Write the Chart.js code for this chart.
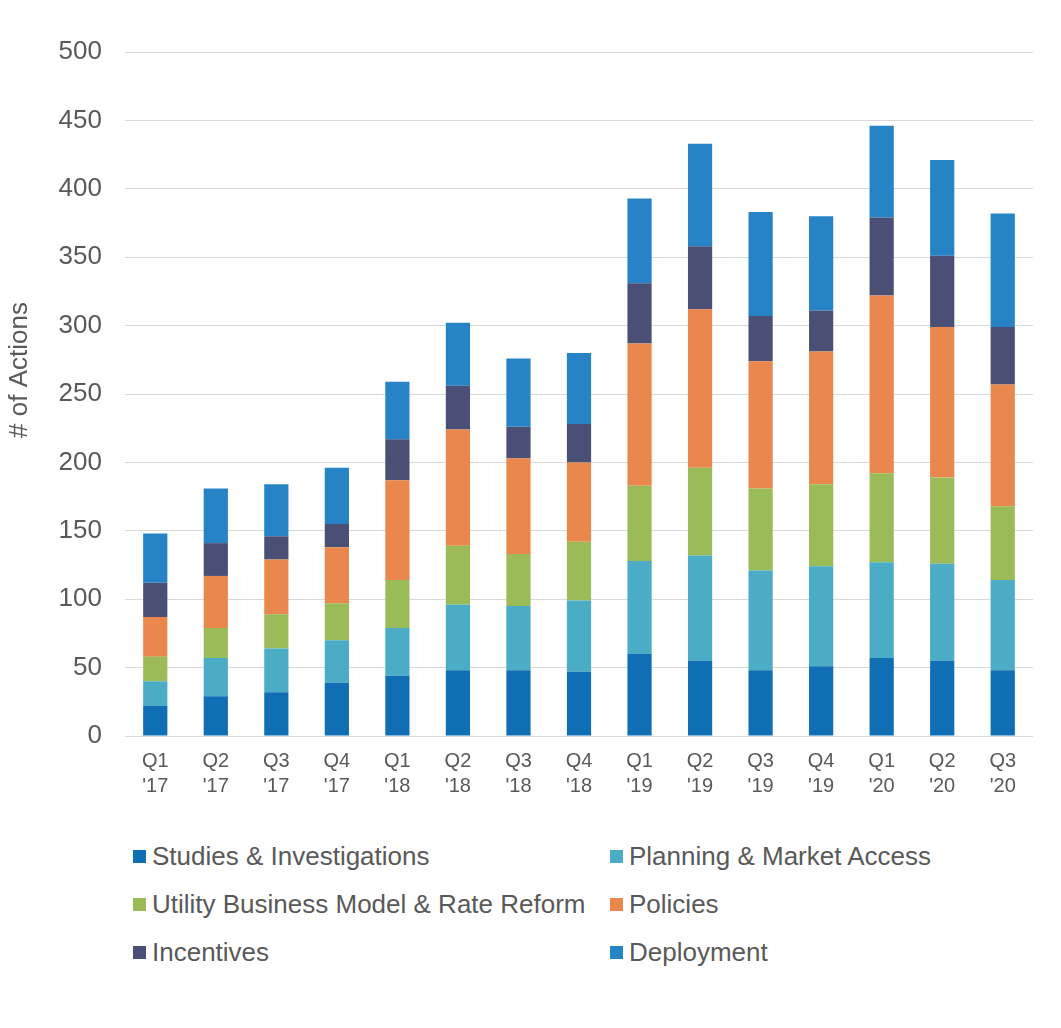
<!DOCTYPE html>
<html>
<head>
<meta charset="utf-8">
<script src="https://cdn.jsdelivr.net/npm/chart.js@4"></script>
<style>
  body { margin: 0; background: #fff; font-family: "Liberation Sans", Arial, sans-serif; }
  #wrap { position: relative; width: 1061px; height: 1028px; }
  #legend { position: absolute; left: 133px; top: 838px; display: grid;
            grid-template-columns: 477px 420px; row-gap: 12px; }
  .item { display: flex; align-items: center; height: 36px; font-size: 26px; color: #595959; white-space: nowrap; }
  .box { width: 13px; height: 13px; margin-right: 6px; }
</style>
</head>
<body>
<div id="wrap">
  <canvas id="chart" width="1061" height="820"></canvas>
  <div id="legend"></div>
</div>
<script>
// quarters on the x axis (two-line labels)
const quarters = [
  ['Q1', "'17"], ['Q2', "'17"], ['Q3', "'17"], ['Q4', "'17"],
  ['Q1', "'18"], ['Q2', "'18"], ['Q3', "'18"], ['Q4', "'18"],
  ['Q1', "'19"], ['Q2', "'19"], ['Q3', "'19"], ['Q4', "'19"],
  ['Q1', "'20"], ['Q2', "'20"], ['Q3', "'20"]
];

// series values
const studies    = [22, 29, 32, 39, 44, 48, 48, 47, 60, 55, 48, 51, 57, 55, 48];
const planning   = [18, 28, 32, 31, 35, 48, 47, 52, 68, 77, 73, 73, 70, 71, 66];
const utility    = [18, 22, 25, 27, 35, 43, 38, 43, 55, 64, 60, 60, 65, 63, 54];
const policies   = [29, 38, 40, 41, 73, 85, 70, 58, 104, 116, 93, 97, 130, 110, 89];
const incentives = [25, 24, 17, 17, 30, 32, 23, 28, 44, 46, 33, 30, 57, 52, 42];
const deployment = [36, 40, 38, 41, 42, 46, 50, 52, 62, 75, 76, 69, 67, 70, 83];

const seriesNames = ['Studies & Investigations', 'Planning & Market Access',
  'Utility Business Model & Rate Reform', 'Policies', 'Incentives', 'Deployment'];
const seriesColors = ['#106EB4', '#4BACC6', '#9BBB59', '#EA874D', '#4A4F75', '#2683C6'];
const seriesData = [studies, planning, utility, policies, incentives, deployment];

const yTicks = { min: 0, max: 500, step: 50 };
const yTitle = '# of Actions';

const textColor = '#595959';
const fontFam = '"Liberation Sans", Arial, sans-serif';

const datasets = seriesNames.map((name, i) => ({
  label: name,
  data: seriesData[i],
  backgroundColor: seriesColors[i],
  borderWidth: 0,
  barPercentage: 0.8,
  categoryPercentage: 0.5
}));

// y title sits a bit above the axis middle in the original, so draw it by hand
const yTitlePlugin = {
  id: 'yTitle',
  afterDraw(chart) {
    const ctx = chart.ctx;
    ctx.save();
    ctx.translate(20, 370);
    ctx.rotate(-Math.PI / 2);
    ctx.fillStyle = textColor;
    ctx.font = `26px ${fontFam}`;
    ctx.textAlign = 'center';
    ctx.textBaseline = 'middle';
    ctx.fillText(yTitle, 0, 0);
    ctx.restore();
  }
};

new Chart(document.getElementById('chart').getContext('2d'), {
  type: 'bar',
  data: { labels: quarters, datasets: datasets },
  options: {
    responsive: false,
    animation: false,
    layout: { padding: { top: 52, right: 28, left: 0, bottom: 0 } },
    plugins: {
      legend: { display: false },
      tooltip: { enabled: false }
    },
    scales: {
      x: {
        stacked: true,
        grid: { display: false },
        border: { display: false },
        ticks: {
          color: textColor,
          font: { family: fontFam, size: 20, lineHeight: 1.25 },
          padding: 5,
          maxRotation: 0,
          autoSkip: false
        },
        afterFit: (s) => { s.height = 84; }
      },
      y: {
        stacked: true,
        min: yTicks.min,
        max: yTicks.max,
        grid: { color: '#D9D9D9', lineWidth: 1, drawTicks: false },
        border: { display: false },
        ticks: {
          stepSize: yTicks.step,
          color: textColor,
          font: { family: fontFam, size: 26 },
          padding: 23
        },
        afterFit: (s) => { s.width = 125; }
      }
    }
  },
  plugins: [yTitlePlugin]
});

// legend, two columns
const legend = document.getElementById('legend');
seriesNames.forEach((name, i) => {
  const item = document.createElement('div');
  item.className = 'item';
  item.innerHTML = `<span class="box" style="background:${seriesColors[i]}"></span>${name}`;
  legend.appendChild(item);
});
</script>
</body>
</html>
